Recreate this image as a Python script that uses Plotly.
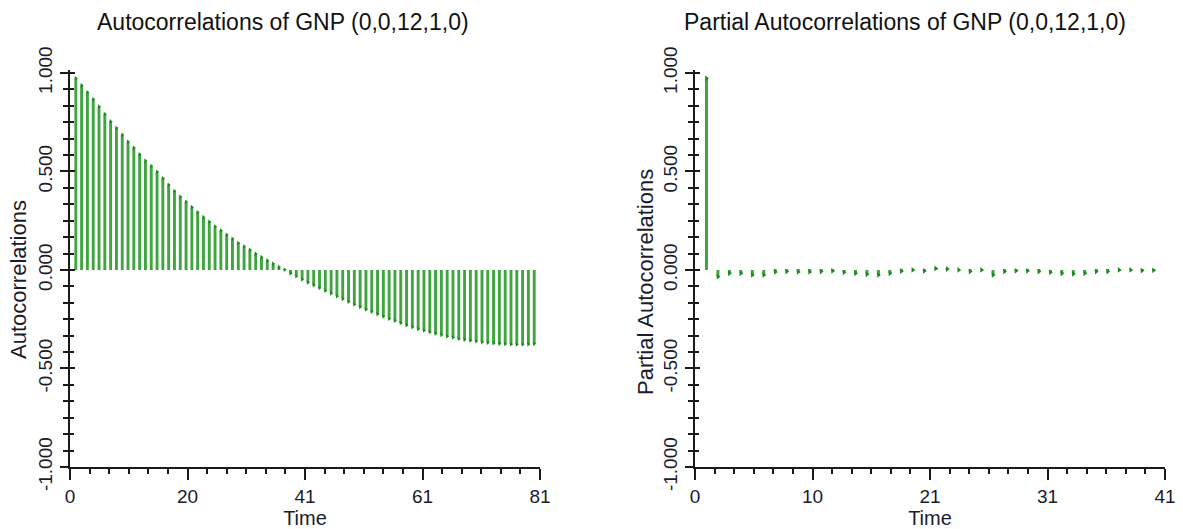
import plotly.graph_objects as go

# ---------------- data ----------------
acf_lags = list(range(1, 81))
acf_values = [
    0.973, 0.937, 0.902, 0.866, 0.829, 0.791, 0.754, 0.721, 0.686, 0.651,
    0.620, 0.587, 0.555, 0.528, 0.498, 0.465, 0.432, 0.401, 0.372, 0.346,
    0.319, 0.293, 0.268, 0.245, 0.221, 0.200, 0.179, 0.158, 0.137, 0.119,
    0.102, 0.082, 0.065, 0.048, 0.031, 0.015, 0.001, -0.017, -0.032, -0.048,
    -0.063, -0.077, -0.091, -0.105, -0.119, -0.133, -0.147, -0.161, -0.175, -0.188,
    -0.200, -0.212, -0.224, -0.236, -0.247, -0.258, -0.269, -0.280, -0.290, -0.299,
    -0.307, -0.315, -0.323, -0.330, -0.337, -0.343, -0.349, -0.354, -0.358, -0.362,
    -0.366, -0.369, -0.372, -0.374, -0.376, -0.377, -0.378, -0.378, -0.377, -0.375,
]

pacf_lags = list(range(1, 41))
pacf_values = [
    0.973, -0.034, -0.017, -0.017, -0.025, -0.025, -0.010, -0.008, -0.010, -0.010,
    -0.008, -0.005, -0.012, -0.017, -0.022, -0.025, -0.017, -0.006, 0.000, -0.005,
    0.008, 0.005, 0.000, -0.008, 0.000, -0.025, -0.008, -0.004, -0.005, -0.008,
    -0.012, -0.017, -0.020, -0.017, -0.008, -0.008, 0.000, 0.000, -0.003, -0.002,
]

y_tickvals = [-1.0, -0.5, 0.0, 0.5, 1.0]
y_ticktext = ["-1.000", "-0.500", "0.000", "0.500", "1.000"]
acf_x_tickvals = [0, 20.25, 40.5, 60.75, 81]
acf_x_ticktext = ["0", "20", "41", "61", "81"]
pacf_x_tickvals = [0, 10.25, 20.5, 30.75, 41]
pacf_x_ticktext = ["0", "10", "21", "31", "41"]

title_left = "Autocorrelations of GNP (0,0,12,1,0)"
title_right = "Partial Autocorrelations of GNP (0,0,12,1,0)"

# ---------------- style ----------------
W, H = 1183, 529
ML, MR, MT, MB = 70, 18, 70, 62
PW = W - ML - MR
PH = H - MT - MB
FONT = "Liberation Sans, Arial, sans-serif"
STEM = "#3fa53f"
TIP = "#1c8a1c"
AX = "#1a1a1a"
TXT = "#1b1b2b"

def px_x(p):
    return (p - ML) / PW

def px_y(p):
    return (H - MB - p) / PH

fig = go.Figure()

# ACF stems + tips
fig.add_trace(go.Bar(x=acf_lags, y=acf_values, width=0.5, marker=dict(color=STEM, line=dict(width=0)),
                     xaxis="x", yaxis="y", showlegend=False, hoverinfo="skip"))
fig.add_trace(go.Scatter(x=acf_lags, y=acf_values, mode="markers",
                         marker=dict(symbol="triangle-right", size=4, color=TIP),
                         xaxis="x", yaxis="y", showlegend=False, hoverinfo="skip", cliponaxis=False))
# PACF stems + tips
fig.add_trace(go.Bar(x=pacf_lags, y=pacf_values, width=0.26, marker=dict(color=STEM, line=dict(width=0)),
                     xaxis="x2", yaxis="y2", showlegend=False, hoverinfo="skip"))
fig.add_trace(go.Scatter(x=pacf_lags, y=pacf_values, mode="markers",
                         marker=dict(symbol="triangle-right", size=5, color=TIP),
                         xaxis="x2", yaxis="y2", showlegend=False, hoverinfo="skip", cliponaxis=False))
# empty traces so the overlay (inside-tick) axes are drawn
fig.add_trace(go.Scatter(x=[None], y=[None], xaxis="x", yaxis="y3", showlegend=False, hoverinfo="skip"))
fig.add_trace(go.Scatter(x=[None], y=[None], xaxis="x2", yaxis="y4", showlegend=False, hoverinfo="skip"))

d_left = [0, px_x(540)]
d_right = [px_x(695), 1]
yr = [-1.0, 1.015]

def yaxis_main(anchor):
    return dict(domain=[0, 1], range=yr, anchor=anchor, showgrid=False, zeroline=False,
                showline=True, linecolor=AX, linewidth=2, automargin=False,
                tickvals=y_tickvals, ticktext=y_ticktext, tickangle=-90,
                ticks="outside", ticklen=8, tickwidth=2, tickcolor=AX,
                tickfont=dict(family=FONT, size=19, color=TXT),
                minor=dict(dtick=0.5 / 6, tick0=0, ticks="outside", ticklen=5, tickwidth=2, tickcolor=AX),
                fixedrange=True)

def yaxis_over(anchor, over):
    return dict(domain=[0, 1], range=yr, anchor=anchor, overlaying=over, side="left",
                showgrid=False, zeroline=False, showline=False, showticklabels=False, automargin=False,
                tickvals=y_tickvals, ticks="inside", ticklen=5, tickwidth=2, tickcolor=AX,
                minor=dict(dtick=0.5 / 6, tick0=0, ticks="inside", ticklen=4, tickwidth=2, tickcolor=AX),
                fixedrange=True)

def xaxis(domain, rng, tv, tt, anchor):
    return dict(domain=domain, range=rng, anchor=anchor, showgrid=False, zeroline=False,
                showline=True, linecolor=AX, linewidth=2, automargin=False,
                tickvals=tv, ticktext=tt, ticks="outside", ticklen=11, tickwidth=2, tickcolor=AX,
                tickfont=dict(family=FONT, size=19, color=TXT),
                minor=dict(dtick=rng[1] / 24, tick0=0, ticks="outside", ticklen=5, tickwidth=2, tickcolor=AX),
                title=dict(text="Time", font=dict(family=FONT, size=20, color=TXT), standoff=4),
                fixedrange=True)

fig.update_layout(
    width=W, height=H,
    margin=dict(l=ML, r=MR, t=MT, b=MB, autoexpand=False),
    paper_bgcolor="white", plot_bgcolor="white",
    xaxis=xaxis(d_left, [0, 81], acf_x_tickvals, acf_x_ticktext, "y"),
    xaxis2=xaxis(d_right, [0, 41], pacf_x_tickvals, pacf_x_ticktext, "y2"),
    yaxis=yaxis_main("x"),
    yaxis2=yaxis_main("x2"),
    yaxis3=yaxis_over("x", "y"),
    yaxis4=yaxis_over("x2", "y2"),
    barmode="overlay",
    annotations=[
        dict(text=title_left, x=px_x(283), y=px_y(22), xref="paper", yref="paper",
             xanchor="center", yanchor="middle", showarrow=False,
             font=dict(family=FONT, size=23, color="#111111")),
        dict(text=title_right, x=px_x(905), y=px_y(22), xref="paper", yref="paper",
             xanchor="center", yanchor="middle", showarrow=False,
             font=dict(family=FONT, size=23, color="#111111")),
        dict(text="Autocorrelations", x=px_x(18), y=px_y(280), xref="paper", yref="paper",
             xanchor="center", yanchor="middle", showarrow=False, textangle=-90,
             font=dict(family=FONT, size=22, color=TXT)),
        dict(text="Partial Autocorrelations", x=px_x(645), y=px_y(282), xref="paper", yref="paper",
             xanchor="center", yanchor="middle", showarrow=False, textangle=-90,
             font=dict(family=FONT, size=22, color=TXT)),
    ],
)

fig.write_html("out.html", config={"displayModeBar": False})
